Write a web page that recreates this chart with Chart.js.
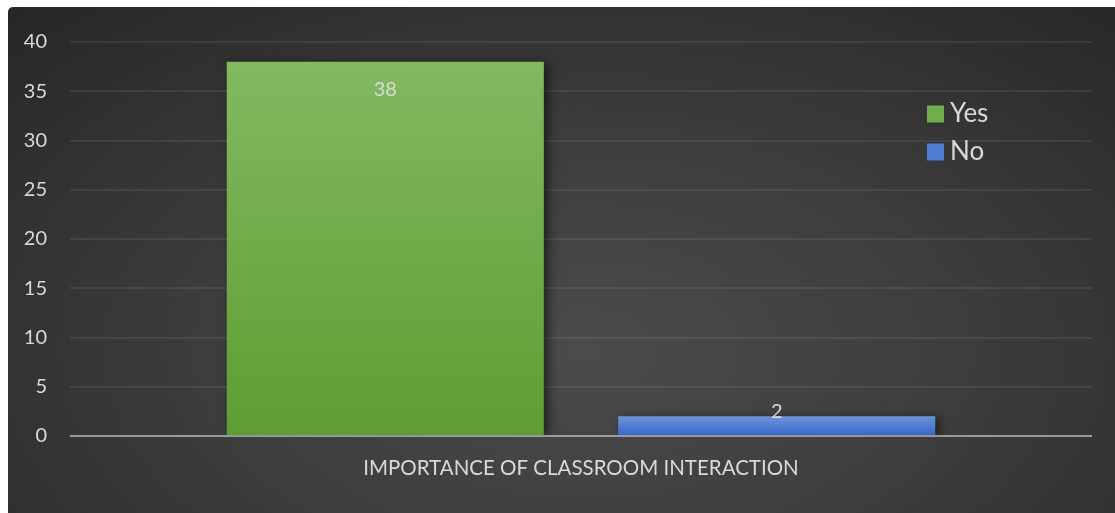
<!DOCTYPE html>
<html>
<head>
<meta charset="utf-8">
<script src="https://cdn.jsdelivr.net/npm/chart.js@4"></script>
<style>
  html, body { margin: 0; padding: 0; background: #ffffff; }
  #wrap {
    position: absolute;
    left: 8px;
    top: 7px;
    width: 1107px;
    height: 506px;
    border-top-left-radius: 5px;
    background: radial-gradient(ellipse 75% 95% at 52% 68%, #4b4b4b 0%, #3d3d3d 45%, #262626 100%);
    overflow: hidden;
  }
  canvas { display: block; }
</style>
</head>
<body>
<div id="wrap"><canvas id="chart" width="1107" height="506"></canvas></div>
<script>
// datos del gráfico
const categories = ['IMPORTANCE OF CLASSROOM INTERACTION'];
const seriesNames = ['Yes', 'No'];
const yesValues = [38];
const noValues = [2];
const yTicks = [0, 5, 10, 15, 20, 25, 30, 35, 40];

const textColor = '#d9d9d9';
const fontFamily = 'Lato, "Open Sans", sans-serif';

// degradado vertical por barra (como en Excel)
function barGradient(top, bottom) {
  return (context) => {
    const chart = context.chart;
    const y = chart.scales.y;
    if (!chart.chartArea || !y) return bottom;
    const yTop = y.getPixelForValue(context.raw);
    const yBottom = y.getPixelForValue(0);
    const g = chart.ctx.createLinearGradient(0, yTop, 0, yBottom);
    g.addColorStop(0, top);
    g.addColorStop(1, bottom);
    return g;
  };
}

// sombra de las barras
const barShadow = {
  id: 'barShadow',
  beforeDatasetsDraw(chart) {
    const ctx = chart.ctx;
    ctx.save();
    ctx.shadowColor = 'rgba(0, 0, 0, 0.55)';
    ctx.shadowBlur = 10;
    ctx.shadowOffsetX = 4;
    ctx.shadowOffsetY = 2;
  },
  afterDatasetsDraw(chart) {
    chart.ctx.restore();
  }
};

// línea del cero encima de las barras
const zeroLine = {
  id: 'zeroLine',
  afterDatasetsDraw(chart) {
    const ctx = chart.ctx;
    const y = chart.scales.y.getPixelForValue(0);
    ctx.save();
    ctx.strokeStyle = 'rgba(190, 190, 190, 0.7)';
    ctx.lineWidth = 2;
    ctx.beginPath();
    ctx.moveTo(chart.chartArea.left, y);
    ctx.lineTo(chart.chartArea.right, y);
    ctx.stroke();
    ctx.restore();
  }
};

// etiquetas de valor
const valueLabels = {
  id: 'valueLabels',
  afterDatasetsDraw(chart) {
    const ctx = chart.ctx;
    ctx.save();
    ctx.fillStyle = textColor;
    ctx.font = '20px ' + fontFamily;
    ctx.textAlign = 'center';
    ctx.textBaseline = 'middle';
    chart.data.datasets.forEach((dataset, i) => {
      const meta = chart.getDatasetMeta(i);
      meta.data.forEach((bar, j) => {
        const value = dataset.data[j];
        const h = bar.base - bar.y;
        const ly = h > 40 ? bar.y + 28 : bar.y - 5;
        ctx.fillText(value, bar.x, ly);
      });
    });
    ctx.restore();
  }
};

// leyenda a la derecha, encima del área del gráfico
const sideLegend = {
  id: 'sideLegend',
  afterDraw(chart) {
    const ctx = chart.ctx;
    ctx.save();
    ctx.font = '26px ' + fontFamily;
    ctx.textBaseline = 'middle';
    ctx.textAlign = 'left';
    chart.data.datasets.forEach((dataset, i) => {
      const y = 107 + i * 38;
      ctx.fillStyle = dataset.legendColor;
      ctx.fillRect(919, y - 8.5, 17, 17);
      ctx.fillStyle = textColor;
      ctx.fillText(dataset.label, 942, y);
    });
    ctx.restore();
  }
};

new Chart(document.getElementById('chart'), {
  type: 'bar',
  data: {
    labels: categories,
    datasets: [
      {
        label: seriesNames[0],
        data: yesValues,
        backgroundColor: barGradient('#83b961', '#5d9e31'),
        legendColor: '#72ad4b'
      },
      {
        label: seriesNames[1],
        data: noValues,
        backgroundColor: barGradient('#6f93da', '#3467c8'),
        legendColor: '#4f7dd2'
      }
    ]
  },
  options: {
    responsive: false,
    animation: false,
    categoryPercentage: 0.766,
    barPercentage: 0.81,
    layout: {
      padding: { left: 0, right: 23, top: 35, bottom: 0 }
    },
    plugins: {
      legend: { display: false },
      tooltip: { enabled: false }
    },
    scales: {
      x: {
        grid: { display: false },
        border: { display: false },
        ticks: {
          color: textColor,
          font: { family: fontFamily, size: 20.5 },
          padding: 12
        },
        afterFit(scale) { scale.height = 77; }
      },
      y: {
        min: 0,
        max: 40,
        afterBuildTicks(scale) {
          scale.ticks = yTicks.map(v => ({ value: v }));
        },
        grid: {
          color: 'rgba(255, 255, 255, 0.075)',
          lineWidth: 2,
          drawTicks: false
        },
        border: { display: false },
        ticks: {
          color: textColor,
          font: { family: fontFamily, size: 20 },
          padding: 23
        },
        afterFit(scale) { scale.width = 62; }
      }
    }
  },
  plugins: [barShadow, zeroLine, valueLabels, sideLegend]
});
</script>
</body>
</html>
